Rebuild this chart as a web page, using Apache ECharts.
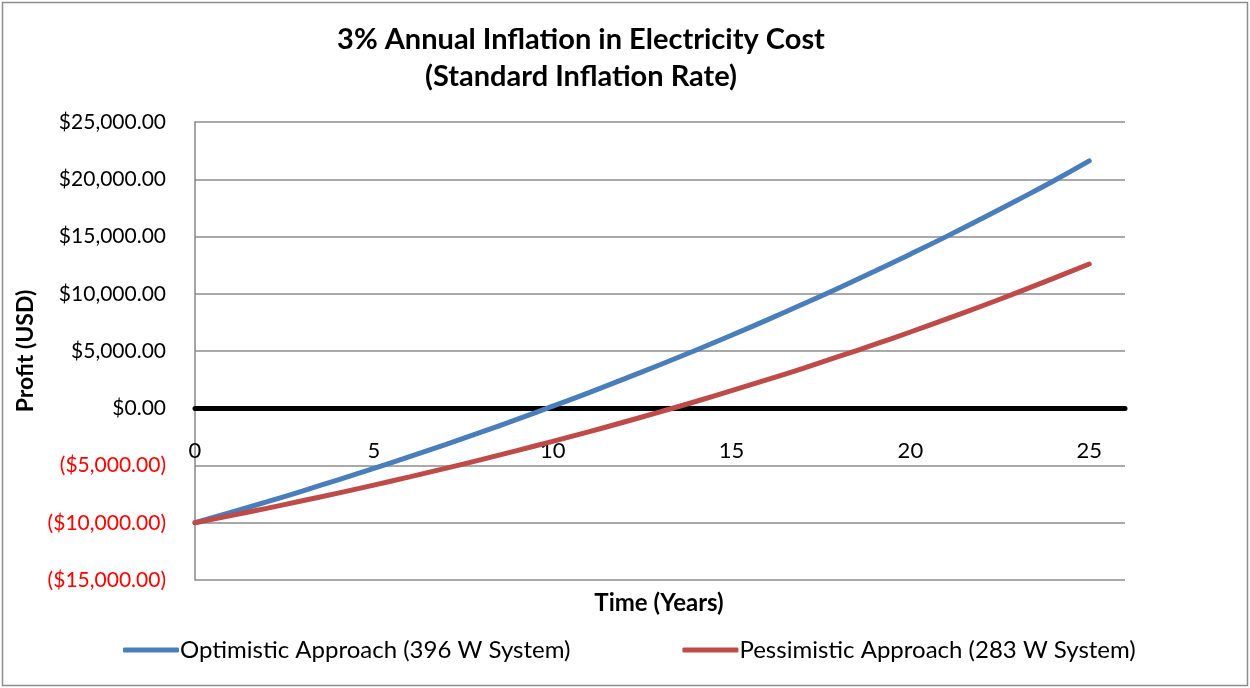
<!DOCTYPE html>
<html>
<head>
<meta charset="utf-8">
<script src="https://cdn.jsdelivr.net/npm/echarts@6/dist/echarts.min.js"></script>
<style>
html,body{margin:0;padding:0;background:#fff;}
#c{width:1250px;height:688px;}
</style>
</head>
<body>
<div id="c"></div>
<script>
var years = [0,1,2,3,4,5,6,7,8,9,10,11,12,13,14,15,16,17,18,19,20,21,22,23,24,25];
var optimistic = [-10000,-9100,-8180,-7230,-6250,-5250,-4220,-3170,-2080,-970,180,1350,2560,3800,5070,6380,7720,9100,10510,11970,13460,14990,16570,18190,19850,21600];
var pessimistic = [-10000,-9380,-8740,-8080,-7410,-6710,-5990,-5250,-4490,-3700,-2890,-2060,-1200,-320,590,1530,2500,3490,4520,5570,6660,7780,8930,10120,11340,12600];
var seriesNames = ['Optimistic Approach (396 W System)','Pessimistic Approach (283 W System)'];
var titleLines = ['3% Annual Inflation in Electricity Cost','(Standard Inflation Rate)'];
var xTitle = 'Time (Years)';
var yTitle = 'Profit (USD)';

function pairs(xs, ys){ return xs.map(function(x,i){ return [x, ys[i]]; }); }
function money(v){
  var a = Math.abs(v).toLocaleString('en-US',{minimumFractionDigits:2,maximumFractionDigits:2});
  return v < 0 ? '($' + a + ')' : '$' + a;
}
var FONT = 'Lato, "Open Sans", sans-serif';
var chart = echarts.init(document.getElementById('c'));
chart.setOption({
  animation:false,
  backgroundColor:'#fff',
  grid:{left:195,right:125,top:122,bottom:108,containLabel:false},
  graphic:[
    {type:'rect',shape:{x:2.5,y:2.5,width:1245,height:683},style:{fill:'none',stroke:'#8c8c8c',lineWidth:1.5},z:-1},
    {type:'text',x:581,y:40,style:{text:titleLines[0],font:'bold 29px '+FONT,fill:'#000',textAlign:'center',textVerticalAlign:'middle'}},
    {type:'text',x:581,y:77,style:{text:titleLines[1],font:'bold 29px '+FONT,fill:'#000',textAlign:'center',textVerticalAlign:'middle'}},
    {type:'text',x:659,y:603,style:{text:xTitle,font:'bold 24px '+FONT,fill:'#000',textAlign:'center',textVerticalAlign:'middle'}}
  ],
  legend:{
    left:118,top:633,itemWidth:56,itemHeight:5,itemGap:112,icon:'roundRect',
    textStyle:{fontFamily:FONT,fontSize:24,color:'#000',padding:[0,0,0,-4]},
    data:seriesNames
  },
  xAxis:{
    type:'value',min:0,max:26,interval:5,position:'bottom',offset:-172,
    axisLine:{show:true,onZero:false,lineStyle:{color:'#000',width:5}},
    axisTick:{show:false},
    splitLine:{show:false},
    axisLabel:{showMaxLabel:false,fontFamily:FONT,fontSize:22,color:'#000',margin:32}
  },
  yAxis:{
    type:'value',min:-15000,max:25000,interval:5000,
    name:yTitle,nameLocation:'middle',nameGap:158,nameRotate:90,
    nameTextStyle:{fontFamily:FONT,fontSize:23,fontWeight:'bold',color:'#000'},
    axisLine:{show:true,lineStyle:{color:'#868686',width:1.5}},
    axisTick:{show:false},
    splitLine:{show:true,lineStyle:{color:'#8c8c8c',width:1.5}},
    axisLabel:{
      fontFamily:FONT,fontSize:21,margin:29,
      formatter:function(v){return money(v);},
      color:function(v){return Number(v) < 0 ? '#ff0000' : '#000';}
    }
  },
  series:[
    {name:seriesNames[0],type:'line',data:pairs(years,optimistic),smooth:true,showSymbol:false,symbol:'none',
     lineStyle:{color:'#4a7ebb',width:5,cap:'round'},itemStyle:{color:'#4a7ebb'},z:3},
    {name:seriesNames[1],type:'line',data:pairs(years,pessimistic),smooth:true,showSymbol:false,symbol:'none',
     lineStyle:{color:'#be4b48',width:5,cap:'round'},itemStyle:{color:'#be4b48'},z:3}
  ]
});
</script>
</body>
</html>
